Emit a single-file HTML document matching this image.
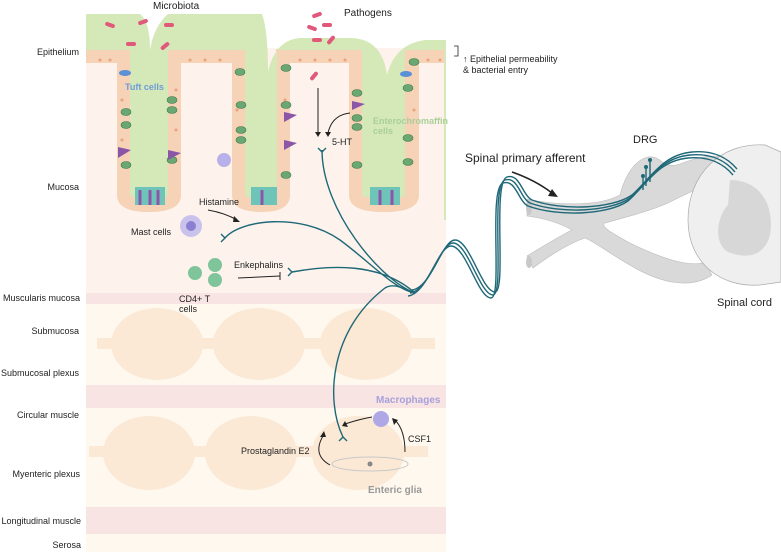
<!DOCTYPE html>
<html><head><style>
html,body{margin:0;padding:0;background:#fff;}
svg{display:block;font-family:"Liberation Sans",sans-serif;}
</style></head><body>
<svg width="781" height="552" viewBox="0 0 781 552" xmlns="http://www.w3.org/2000/svg">
<!-- layers -->
<rect x="86" y="48" width="360" height="245" fill="#fdf3ec"/>
<rect x="86" y="293" width="360" height="11" fill="#f8e4e2"/>
<rect x="86" y="304" width="360" height="81" fill="#fef8ee"/>
<rect x="86" y="385" width="360" height="23" fill="#f8e4e2"/>
<rect x="86" y="408" width="360" height="99" fill="#fef8ee"/>
<rect x="86" y="507" width="360" height="27" fill="#f8e4e2"/>
<rect x="86" y="534" width="360" height="18" fill="#fef8ee"/>
<g fill="#fbe9d6">
<rect x="97" y="338" width="338" height="11"/>
<ellipse cx="157" cy="344" rx="46" ry="36"/><ellipse cx="259" cy="344" rx="46" ry="36"/><ellipse cx="366" cy="344" rx="46" ry="36"/>
<rect x="89" y="446" width="339" height="11"/>
<ellipse cx="149" cy="453" rx="46" ry="37"/><ellipse cx="251" cy="453" rx="46" ry="37"/><ellipse cx="358" cy="453" rx="46" ry="37"/>
</g>
<!-- epithelium -->
<path d="M86,56 L124,56 L124,195 Q124,205 149,205 Q174,205 174,195 L174,56 L239,56 L239,195 Q239,205 261,205 Q283,205 283,195 L283,56 L356,56 L356,195 Q356,205 384,205 Q412,205 412,195 L412,56 L446,56" fill="none" stroke="#f6d2b6" stroke-width="14"/>
<path d="M86,14 L140,14 Q150,22 150,50 Q154,26 168,14 L262,14 Q268,30 268,72 Q275,40 300,38 L350,38 Q382,38 387,75 Q395,44 425,40 L446,40 L446,220 L444,220 L444,50 L412,50 L405,50 L405,195 Q405,198 384,198 Q362,198 362,195 L362,50 L277,50 L277,195 Q277,198 261,198 Q245,198 245,195 L245,50 L168,50 L168,195 Q168,198 149,198 Q130,198 130,195 L130,50 L86,50 Z" fill="#d5e9b8"/>
<g fill="#e9a27e">
<circle cx="100" cy="60" r="1.5"/><circle cx="110" cy="60" r="1.5"/><circle cx="190" cy="60" r="1.5"/><circle cx="205" cy="60" r="1.5"/><circle cx="220" cy="60" r="1.5"/><circle cx="300" cy="60" r="1.5"/><circle cx="315" cy="60" r="1.5"/><circle cx="330" cy="60" r="1.5"/><circle cx="345" cy="60" r="1.5"/><circle cx="428" cy="60" r="1.5"/><circle cx="440" cy="60" r="1.5"/>
<circle cx="122" cy="100" r="1.5"/><circle cx="122" cy="140" r="1.5"/><circle cx="176" cy="90" r="1.5"/><circle cx="176" cy="130" r="1.5"/><circle cx="237" cy="110" r="1.5"/><circle cx="285" cy="100" r="1.5"/><circle cx="354" cy="120" r="1.5"/><circle cx="414" cy="110" r="1.5"/>
</g>
<!-- cells -->
<g fill="#6aa772" stroke="#3d7a4a" stroke-width="0.6">
<ellipse cx="126" cy="112" rx="5" ry="3.5"/><ellipse cx="126" cy="125" rx="5" ry="3.5"/><ellipse cx="126" cy="165" rx="5" ry="3.5"/><ellipse cx="172" cy="100" rx="5" ry="3.5"/><ellipse cx="172" cy="110" rx="5" ry="3.5"/><ellipse cx="172" cy="160" rx="5" ry="3.5"/>
<ellipse cx="240" cy="72" rx="5" ry="3.5"/><ellipse cx="241" cy="105" rx="5" ry="3.5"/><ellipse cx="241" cy="130" rx="5" ry="3.5"/><ellipse cx="241" cy="140" rx="5" ry="3.5"/><ellipse cx="286" cy="68" rx="5" ry="3.5"/><ellipse cx="286" cy="105" rx="5" ry="3.5"/><ellipse cx="286" cy="175" rx="5" ry="3.5"/>
<ellipse cx="357" cy="93" rx="5" ry="3.5"/><ellipse cx="357" cy="118" rx="5" ry="3.5"/><ellipse cx="357" cy="127" rx="5" ry="3.5"/><ellipse cx="357" cy="165" rx="5" ry="3.5"/><ellipse cx="408" cy="88" rx="5" ry="3.5"/><ellipse cx="408" cy="138" rx="5" ry="3.5"/><ellipse cx="408" cy="162" rx="5" ry="3.5"/><ellipse cx="414" cy="62" rx="5" ry="3.5"/>
</g>
<g fill="#8c56a8"><path d="M118,147 L131,150 L118,158Z"/><path d="M168,150 L181,153 L168,160Z"/><path d="M284,112 L297,115 L284,122Z"/><path d="M284,140 L297,143 L284,150Z"/><path d="M352,101 L365,104 L352,110Z"/></g>
<g><path d="M135,187 h30 v18 h-30z" fill="#6fc4b9"/><path d="M140,190 v15 M150,190 v15 M158,190 v15" stroke="#8c56a8" stroke-width="3"/>
<path d="M251,187 h26 v18 h-26z" fill="#6fc4b9"/><path d="M262,190 v15" stroke="#8c56a8" stroke-width="3"/>
<path d="M370,187 h30 v18 h-30z" fill="#6fc4b9"/><path d="M380,190 v15 M392,190 v15" stroke="#8c56a8" stroke-width="3"/></g>
<ellipse cx="125" cy="73" rx="6" ry="3" fill="#5b8fd6"/><ellipse cx="406" cy="74" rx="6" ry="3" fill="#5b8fd6"/>
<circle cx="224" cy="160" r="7" fill="#b8b0e8"/>
<!-- bacteria -->
<g fill="#e0587a"><rect x="105" y="23" width="10" height="4" rx="2" transform="rotate(20 110 25)"/><rect x="138" y="20" width="10" height="4" rx="2" transform="rotate(-20 143 22)"/><rect x="164" y="23" width="10" height="4" rx="2"/><rect x="126" y="42" width="10" height="4" rx="2"/><rect x="160" y="44" width="10" height="4" rx="2" transform="rotate(-40 165 46)"/><rect x="312" y="13" width="10" height="4" rx="2" transform="rotate(-20 317 15)"/><rect x="307" y="26" width="10" height="4" rx="2" transform="rotate(20 312 28)"/><rect x="322" y="23" width="10" height="4" rx="2"/><rect x="312" y="38" width="10" height="4" rx="2"/><rect x="326" y="38" width="10" height="4" rx="2" transform="rotate(-50 331 40)"/><rect x="309" y="74" width="10" height="4" rx="2" transform="rotate(-50 314 76)"/></g>
<!-- arrows -->
<g stroke="#222" stroke-width="1" fill="none"><path d="M318,88 V133"/><path d="M350,113 Q332,115 328,133"/><path d="M208,210 Q225,213 237,220"/><path d="M238,278 L280,276"/><path d="M280,272 V280"/><path d="M372,417 Q360,419 345,424"/><path d="M405,452 Q405,430 395,420"/><path d="M330,465 Q312,455 323,436"/></g>
<g fill="#222"><path d="M315,132 L321,132 L318,137Z"/><path d="M325,132 L331,132 L328,137Z"/><path d="M234,216 L240,222 L233,222Z"/><path d="M345,421 L348,427 L342,426Z"/><path d="M392,418 L398,420 L394,425Z"/><path d="M320,437 L326,437 L324,431Z"/></g>
<path d="M512,172 Q535,180 552,193" stroke="#222" stroke-width="1.5" fill="none"/><path d="M558,197 L548,196 L552,189Z" fill="#222"/>
<!-- immune cells -->
<circle cx="191" cy="226" r="11" fill="#c9c2ec"/><circle cx="191" cy="226" r="5" fill="#8a7fd0"/>
<circle cx="195" cy="273" r="7" fill="#7fc49a"/><circle cx="215" cy="265" r="7" fill="#7fc49a"/><circle cx="215" cy="280" r="7" fill="#7fc49a"/>
<circle cx="381" cy="419" r="8" fill="#b0a8e6"/>
<ellipse cx="370" cy="464" rx="38" ry="7" fill="none" stroke="#c8c8c8"/><circle cx="370" cy="464" r="2.5" fill="#888"/>
<!-- grey spinal structures -->
<path d="M527,199 C560,206 600,206 620,195 C625,175 635,160 648,157 C662,155 662,170 680,164 C700,156 715,154 730,158 L735,178 C710,182 690,192 668,203 C645,213 625,217 605,223 C600,226 610,232 628,242 C660,258 690,268 705,262 L712,275 C690,290 660,282 635,268 C610,254 595,242 585,238 C570,243 550,255 533,268 L527,256 C545,245 560,236 572,230 C558,222 542,218 527,216Z" fill="#d9d9d9" stroke="#bbb" stroke-width="0.6"/>
<ellipse cx="529" cy="262" rx="3" ry="6" fill="#c8c8c8"/><ellipse cx="529" cy="207" rx="3" ry="8" fill="#c8c8c8"/>
<path d="M781,152 L765,145 C720,142 688,175 688,220 C688,262 720,288 760,285 L781,282Z" fill="#efefef" stroke="#aaa" stroke-width="0.7"/>
<path d="M730,180 C760,180 775,205 770,235 C765,255 748,260 728,252 C712,242 718,215 728,205Z" fill="#d7d7d7"/>
<!-- nerves -->
<g fill="none" stroke="#1f6878" stroke-width="1.4">
<path d="M322,150 C322,210 380,280 415,293"/>
<path d="M225,238 C240,220 300,212 340,240 C370,262 395,290 415,293"/>
<path d="M292,272 C330,265 380,262 415,293"/>
<path d="M343,437 C325,400 330,330 385,288 C395,282 405,290 415,293"/>
<g id="b"><path d="M410,293 C430,290 440,243 453,243 C468,243 480,295 493,295 C505,295 490,185 505,180 C518,176 520,198 530,203 C560,214 610,212 630,198 C650,180 660,158 690,155 C710,153 725,160 735,172"/></g>
<use href="#b" transform="translate(2,-3)"/><use href="#b" transform="translate(-2,3)"/>
<path d="M318,148 L322,152 L326,148 M221,234 L225,238 L221,242 M288,268 L292,272 L288,276 M339,441 L343,437 L347,441"/>
<path d="M643,190 V176 M646,186 V167 M650,182 V160"/>
</g>
<g fill="#1f6878"><circle cx="643" cy="176" r="2"/><circle cx="646" cy="167" r="2"/><circle cx="650" cy="160" r="2"/></g>
<!-- labels -->
<g font-size="9" fill="#222" text-anchor="end"><text x="79" y="55">Epithelium</text><text x="79" y="190">Mucosa</text><text x="80" y="301">Muscularis mucosa</text><text x="79" y="334">Submucosa</text><text x="79" y="376">Submucosal plexus</text><text x="79" y="418">Circular muscle</text><text x="80" y="477">Myenteric plexus</text><text x="81" y="524">Longitudinal muscle</text><text x="81" y="548">Serosa</text></g>
<g font-size="10" fill="#222"><text x="153" y="9">Microbiota</text><text x="344" y="16">Pathogens</text><text x="332" y="145" font-size="9">5-HT</text><text x="199" y="205" font-size="9">Histamine</text><text x="131" y="235" font-size="9">Mast cells</text><text x="234" y="268" font-size="9">Enkephalins</text><text x="179" y="302" font-size="9">CD4+ T</text><text x="179" y="312" font-size="9">cells</text><text x="241" y="454" font-size="9">Prostaglandin E2</text><text x="408" y="442" font-size="9">CSF1</text>
<text x="463" y="62" font-size="9">↑ Epithelial permeability</text><text x="463" y="73" font-size="9">&amp; bacterial entry</text>
<text x="465" y="162" font-size="12">Spinal primary afferent</text><text x="633" y="143" font-size="11">DRG</text><text x="717" y="306" font-size="11">Spinal cord</text></g>
<path d="M454,46 h4 v10 h-4" stroke="#222" fill="none" stroke-width="0.8"/>
<g font-size="9" font-weight="bold"><text x="125" y="90" fill="#6f9ad8">Tuft cells</text><text x="373" y="124" fill="#a9cf98">Enterochromaffin</text><text x="373" y="134" fill="#a9cf98">cells</text><text x="376" y="403" fill="#a8a0dc" font-size="10">Macrophages</text><text x="368" y="493" fill="#999" font-size="10">Enteric glia</text></g>
</svg>
</body></html>
